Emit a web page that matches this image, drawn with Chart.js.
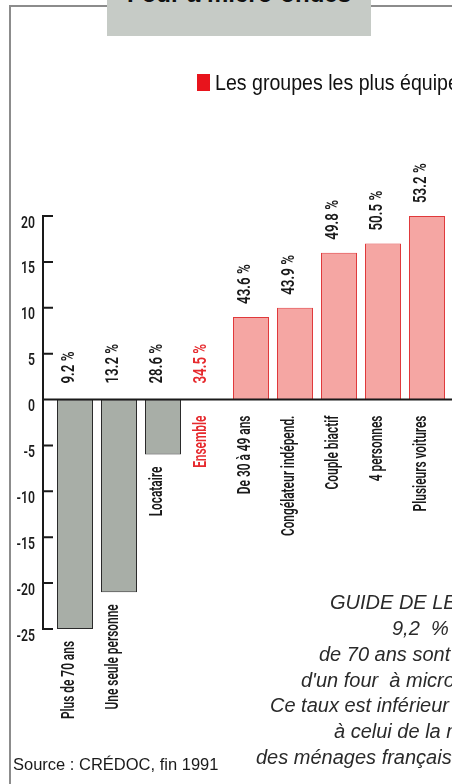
<!DOCTYPE html>
<html lang="fr">
<head>
<meta charset="utf-8">
<title>Four à micro-ondes</title>
<script src="https://cdn.jsdelivr.net/npm/chart.js@4.4.1/dist/chart.umd.min.js"></script>
<style>
  html, body { margin: 0; padding: 0; background: #fff; }
  body { width: 452px; height: 784px; overflow: hidden; position: relative; font-family: "Liberation Sans", Arial, sans-serif; }
  #chart { position: absolute; left: 0; top: 0; }
  .line { position: absolute; background: #8c8c8c; }
  #titleBox { position: absolute; left: 107px; top: 0; width: 264px; height: 36px; background: #c6cbc6; overflow: hidden; }
  #titleBox span { position: absolute; left: 20px; top: -18px; font: bold 24px/24px "Liberation Sans", Arial, sans-serif; color: #111; white-space: nowrap; }
  #legendBox { position: absolute; left: 197px; top: 74px; width: 13px; height: 17px; background: #e8141c; }
  #legendText { position: absolute; left: 215px; top: 72px; font: 22px/22px "Liberation Sans", Arial, sans-serif; color: #111; white-space: nowrap; transform: scaleX(0.89); transform-origin: 0 0; }
  #source { position: absolute; left: 13px; top: 756px; font: 16.5px/16.5px "Liberation Sans", Arial, sans-serif; color: #1a1a1a; white-space: nowrap; }
  .guide { position: absolute; font: italic 20px/20px "Liberation Sans", Arial, sans-serif; color: #2a2a2a; white-space: nowrap; }
</style>
</head>
<body>
<canvas id="chart" width="452" height="784"></canvas>

<div class="line" style="left:10px; top:5px; width:97px; height:1.5px;"></div>
<div class="line" style="left:371px; top:5px; width:81px; height:1.5px;"></div>
<div class="line" style="left:9px; top:5px; width:1.5px; height:779px;"></div>

<div id="titleBox"><span>Four à micro-ondes</span></div>
<div id="legendBox"></div>
<div id="legendText">Les groupes les plus équipés</div>
<div id="source">Source : CRÉDOC, fin 1991</div>

<div class="guide" style="left:330px; top:592px;">GUIDE DE LECTURE :</div>
<div class="guide" style="left:392px; top:618px;">9,2 &nbsp;% des plus</div>
<div class="guide" style="left:319px; top:644px;">de 70 ans sont équipés</div>
<div class="guide" style="left:301px; top:670px;">d'un four &nbsp;à micro-ondes.</div>
<div class="guide" style="left:270px; top:695px;">Ce taux est inférieur de 25 points</div>
<div class="guide" style="left:334px; top:721px;">à celui de la moyenne</div>
<div class="guide" style="left:256px; top:747px;">des ménages français (34,5 %).</div>

<script>
// chart values

const categories = ['Plus de 70 ans', 'Une seule personne', 'Locataire', 'Ensemble', 'De 30 à 49 ans', 'Congélateur indépend.', 'Couple biactif', '4 personnes', 'Plusieurs voitures'];
const ecarts = [-25, -21, -6, 0, 9, 10, 16, 17, 20];
const tauxEquipement = ['9.2 %', '13.2 %', '28.6 %', '34.5 %', '43.6 %', '43.9 %', '49.8 %', '50.5 %', '53.2 %'];
const yTicks = [20, 15, 10, 5, 0, -5, -10, -15, -20, -25];
const reference = 'Ensemble';

// no condensed font installed: squeeze a normal one along the text direction
const labelFont = size => '600 ' + size + 'px Roboto, "Liberation Sans", sans-serif';
const GRAY = '#a8aea7';
const PINK = '#f5a6a3';
const RED = '#e62a2e';

function squeezedText(ctx, txt, x, y, align, squeeze, vertical){
  ctx.save();
  ctx.translate(x, y);
  if (vertical) ctx.rotate(-Math.PI / 2);
  ctx.scale(squeeze, 1);
  ctx.textAlign = align;
  ctx.fillText(txt, 0, 0);
  ctx.restore();
}

// axis, zero line and the rotated labels are drawn by hand, like the original
const axisPlugin = {
  id: 'axisPlugin',
  afterDatasetsDraw(chart){
    const ctx = chart.ctx;
    const xs = chart.scales.x;
    const ys = chart.scales.y;
    const axisX = chart.chartArea.left - 10;
    const y0 = ys.getPixelForValue(0);

    ctx.save();
    ctx.strokeStyle = '#1a1a1a';
    ctx.lineWidth = 2;
    ctx.beginPath();
    ctx.moveTo(axisX, ys.getPixelForValue(yTicks[0]));
    ctx.lineTo(axisX, ys.getPixelForValue(yTicks[yTicks.length - 1]));
    yTicks.forEach(v => {
      const py = ys.getPixelForValue(v);
      ctx.moveTo(axisX - 1, py);
      ctx.lineTo(axisX + 10, py);
    });
    ctx.moveTo(axisX, y0);
    ctx.lineTo(chart.width, y0);
    ctx.stroke();

    ctx.fillStyle = '#1a1a1a';
    ctx.font = labelFont(16.5);
    ctx.textBaseline = 'alphabetic';
    yTicks.forEach(v => {
      squeezedText(ctx, String(v), axisX - 8, ys.getPixelForValue(v) + 11.5, 'right', 0.74, false);
    });

    categories.forEach((cat, i) => {
      const v = ecarts[i];
      const cx = xs.getPixelForValue(i) - 1;
      ctx.fillStyle = cat === reference ? RED : '#1a1a1a';
      ctx.font = labelFont(18);
      const top = Math.min(ys.getPixelForValue(v), y0);
      squeezedText(ctx, tauxEquipement[i], cx, top - (v > 0 ? 13 : 16), 'left', 0.74, true);
      const bottom = Math.max(ys.getPixelForValue(v), y0);
      squeezedText(ctx, cat, cx, bottom + (v < 0 ? 12 : 16), 'right', 0.66, true);
    });
    ctx.restore();
  }
};

new Chart(document.getElementById('chart').getContext('2d'), {
  type: 'bar',
  data: {
    labels: categories,
    datasets: [{
      data: ecarts,
      backgroundColor: c => c.raw < 0 ? GRAY : PINK,
      borderColor: c => c.raw < 0 ? '#2a2a2a' : '#e0393b',
      borderWidth: c => c.raw === 0 ? 0 : 1,
      borderSkipped: false,
      barPercentage: 0.818,
      categoryPercentage: 1
    }]
  },
  options: {
    responsive: false,
    animation: false,
    layout: { padding: { top: 216, bottom: 155, left: 0, right: 3 } },
    plugins: { legend: { display: false }, tooltip: { enabled: false } },
    scales: {
      x: { display: false },
      y: {
        min: -25,
        max: 20,
        ticks: { display: false },
        grid: { display: false },
        border: { display: false },
        afterFit: scale => { scale.width = 53; }
      }
    }
  },
  plugins: [axisPlugin]
});
</script>
</body>
</html>
